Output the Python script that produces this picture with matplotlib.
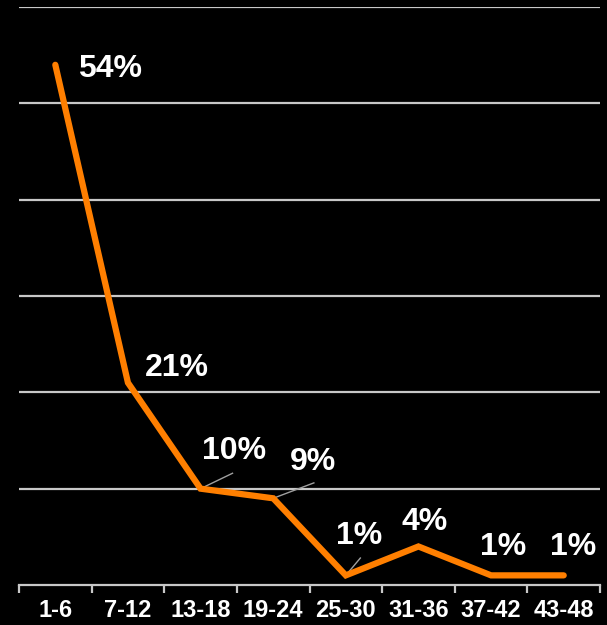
import matplotlib.pyplot as plt

plt.rcParams['font.family'] = ['Liberation Sans', 'DejaVu Sans']

# 年龄段分布
categories = ['1-6', '7-12', '13-18', '19-24', '25-30', '31-36', '37-42', '43-48']
values = [54, 21, 10, 9, 1, 4, 1, 1]
labels = ['54%', '21%', '10%', '9%', '1%', '4%', '1%', '1%']

# 标签中心相对数据点的偏移 (数据坐标)
label_offsets = [(0.75, -0.4), (0.68, 1.5), (0.46, 3.9), (0.55, 3.8),
                 (0.18, 4.1), (0.09, 2.55), (0.17, 2.95), (0.13, 2.95)]
# 引线终点偏移，None 表示不画
leaders = [None, None, (0.44, 1.6), (0.56, 1.6), (0.2, 1.8), None, None, None]

fig = plt.figure(figsize=(6.07, 6.25), dpi=100, facecolor='black')
ax = fig.add_axes([0.0313, 0.064, 0.9572, 0.9248])
ax.set_facecolor('black')

x = list(range(len(categories)))
ax.set_xlim(-0.5, len(categories) - 0.5)
ax.set_ylim(0, 60)

# 网格线
for y in range(10, 61, 10):
    ax.axhline(y, color='#c8c8c8', lw=1.6, zorder=1)

ax.plot(x, values, color='#ff7f00', lw=4.5, solid_capstyle='round',
        solid_joinstyle='miter', zorder=3)

for i, (v, lab) in enumerate(zip(values, labels)):
    dx, dy = label_offsets[i]
    ax.text(i + dx, v + dy, lab, color='white', fontsize=23, fontweight='bold',
            ha='center', va='center', zorder=4)
    if leaders[i]:
        lx, ly = leaders[i]
        ax.plot([i, i + lx], [v, v + ly], color='#a0a0a0', lw=1, zorder=2)

for s in ['top', 'right', 'left']:
    ax.spines[s].set_visible(False)
ax.spines['bottom'].set_color('#c8c8c8')
ax.spines['bottom'].set_linewidth(1.6)

ax.set_yticks([])
ax.set_xticks(x)
ax.set_xticklabels(categories, color='white', fontsize=17, fontweight='bold')
ax.set_xticks([i - 0.5 for i in range(len(categories) + 1)], minor=True)
ax.tick_params(axis='x', which='major', length=0, pad=10)
ax.tick_params(axis='x', which='minor', length=6, width=1.6, color='#c8c8c8')

plt.savefig('out.png', facecolor='black')
